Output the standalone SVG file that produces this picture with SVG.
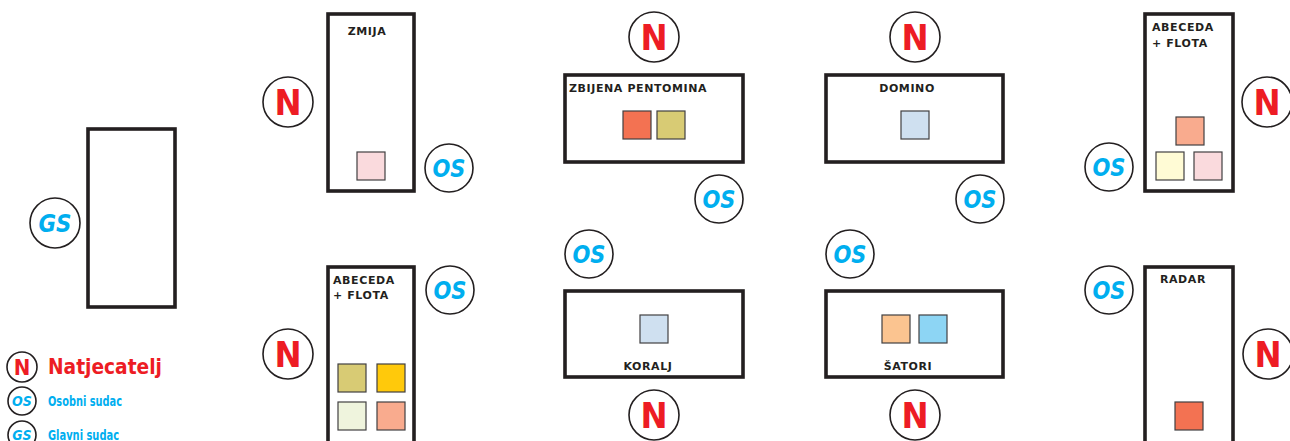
<svg xmlns="http://www.w3.org/2000/svg" width="1290" height="441" viewBox="0 0 1290 441">
  <style>
    .table { fill: #ffffff; stroke: #231f20; stroke-width: 3.6; }
    .piece { stroke: #414042; stroke-width: 1.2; }
    .seat { fill: #ffffff; stroke: #231f20; stroke-width: 1.6; }
    .name { font-family: "DejaVu Sans", "Liberation Sans", sans-serif; font-weight: bold; font-size: 11px; fill: #231f20; letter-spacing: 0.6px; }
    .n { font-family: "DejaVu Sans Condensed", "DejaVu Sans", sans-serif; font-weight: bold; font-size: 36px; fill: #ed1c24; text-anchor: middle; }
    .os { font-family: "DejaVu Sans Condensed", "DejaVu Sans", sans-serif; font-weight: bold; font-style: italic; font-size: 25px; fill: #00aeef; text-anchor: middle; }
    .lg-n { font-family: "DejaVu Sans Condensed", "DejaVu Sans", sans-serif; font-weight: bold; font-size: 21px; fill: #ed1c24; }
    .lg-os { font-family: "DejaVu Sans Condensed", "DejaVu Sans", sans-serif; font-weight: bold; font-size: 14px; fill: #00aeef; }
  </style>
  <defs>
    <g id="seat-n"><circle class="seat" r="25"/><text class="n" y="13">N</text></g>
    <g id="seat-os"><circle class="seat" r="24"/><text class="os" y="9" textLength="33" lengthAdjust="spacingAndGlyphs">OS</text></g>
  </defs>

  <rect width="1290" height="441" fill="#ffffff"/>

  <!-- head judge -->
  <g id="head-table">
    <rect class="table" x="88" y="129" width="87" height="178"/>
    <circle class="seat" cx="55" cy="223" r="25"/>
    <text class="os" x="55" y="232" textLength="33" lengthAdjust="spacingAndGlyphs">GS</text>
  </g>

  <!-- ZMIJA -->
  <g id="zmija">
    <rect class="table" x="328" y="14" width="86" height="177"/>
    <text class="name" x="367" y="35" text-anchor="middle">ZMIJA</text>
    <rect class="piece" x="357" y="152" width="28" height="28" fill="#fadadd"/>
    <use href="#seat-n" x="288" y="102"/>
    <use href="#seat-os" x="449" y="168"/>
  </g>

  <!-- ABECEDA + FLOTA (left) -->
  <g id="abeceda-left">
    <rect class="table" x="328" y="267" width="86" height="190"/>
    <text class="name" x="333" y="284">ABECEDA</text>
    <text class="name" x="333" y="299">+ FLOTA</text>
    <rect class="piece" x="338" y="364" width="28" height="28" fill="#d8cb74"/>
    <rect class="piece" x="377" y="364" width="28" height="28" fill="#ffc90b"/>
    <rect class="piece" x="338" y="402" width="28" height="28" fill="#eff4dd"/>
    <rect class="piece" x="377" y="402" width="28" height="28" fill="#f9ab8e"/>
    <use href="#seat-n" x="288" y="354"/>
    <use href="#seat-os" x="450" y="290"/>
  </g>

  <!-- ZBIJENA PENTOMINA -->
  <g id="pentomina">
    <rect class="table" x="565" y="75" width="178" height="87"/>
    <text class="name" x="569" y="92">ZBIJENA PENTOMINA</text>
    <rect class="piece" x="623" y="111" width="28" height="28" fill="#f37252"/>
    <rect class="piece" x="657" y="111" width="28" height="28" fill="#d8cb74"/>
    <use href="#seat-n" x="654" y="37"/>
    <use href="#seat-os" x="719" y="199"/>
  </g>

  <!-- KORALJ -->
  <g id="koralj">
    <rect class="table" x="565" y="291" width="178" height="86"/>
    <rect class="piece" x="640" y="315" width="28" height="28" fill="#cfe0f0"/>
    <text class="name" x="648" y="370" text-anchor="middle">KORALJ</text>
    <use href="#seat-os" x="589" y="254"/>
    <use href="#seat-n" x="654" y="415"/>
  </g>

  <!-- DOMINO -->
  <g id="domino">
    <rect class="table" x="826" y="75" width="177" height="87"/>
    <text class="name" x="907" y="92" text-anchor="middle">DOMINO</text>
    <rect class="piece" x="901" y="111" width="28" height="28" fill="#cfe0f0"/>
    <use href="#seat-n" x="915" y="37"/>
    <use href="#seat-os" x="980" y="199"/>
  </g>

  <!-- ŠATORI -->
  <g id="satori">
    <rect class="table" x="826" y="291" width="177" height="86"/>
    <rect class="piece" x="882" y="315" width="28" height="28" fill="#fbc490"/>
    <rect class="piece" x="919" y="315" width="28" height="28" fill="#8dd5f4"/>
    <text class="name" x="908" y="370" text-anchor="middle">ŠATORI</text>
    <use href="#seat-os" x="850" y="254"/>
    <use href="#seat-n" x="915" y="415"/>
  </g>

  <!-- ABECEDA + FLOTA (right) -->
  <g id="abeceda-right">
    <rect class="table" x="1145" y="14" width="88" height="177"/>
    <text class="name" x="1152" y="31">ABECEDA</text>
    <text class="name" x="1152" y="47">+ FLOTA</text>
    <rect class="piece" x="1176" y="117" width="28" height="28" fill="#f9ab8e"/>
    <rect class="piece" x="1156" y="152" width="28" height="28" fill="#fffbd5"/>
    <rect class="piece" x="1194" y="152" width="28" height="28" fill="#fadadd"/>
    <use href="#seat-n" x="1267" y="102"/>
    <use href="#seat-os" x="1109" y="167"/>
  </g>

  <!-- RADAR -->
  <g id="radar">
    <rect class="table" x="1145" y="267" width="88" height="190"/>
    <text class="name" x="1183" y="283" text-anchor="middle">RADAR</text>
    <rect class="piece" x="1175" y="402" width="28" height="28" fill="#f37252"/>
    <use href="#seat-os" x="1109" y="290"/>
    <use href="#seat-n" x="1268" y="354"/>
  </g>

  <!-- legend -->
  <g id="legend">
    <circle class="seat" cx="22" cy="367" r="15"/>
    <text class="n" x="22" y="375" style="font-size:22px">N</text>
    <text class="lg-n" x="48" y="374" textLength="114" lengthAdjust="spacingAndGlyphs">Natjecatelj</text>
    <circle class="seat" cx="22" cy="401" r="14"/>
    <text class="os" x="22" y="406" style="font-size:14px">OS</text>
    <text class="lg-os" x="48" y="406" textLength="74" lengthAdjust="spacingAndGlyphs">Osobni sudac</text>
    <circle class="seat" cx="22" cy="435" r="14"/>
    <text class="os" x="22" y="440" style="font-size:14px">GS</text>
    <text class="lg-os" x="48" y="440" textLength="71" lengthAdjust="spacingAndGlyphs">Glavni sudac</text>
  </g>
</svg>
